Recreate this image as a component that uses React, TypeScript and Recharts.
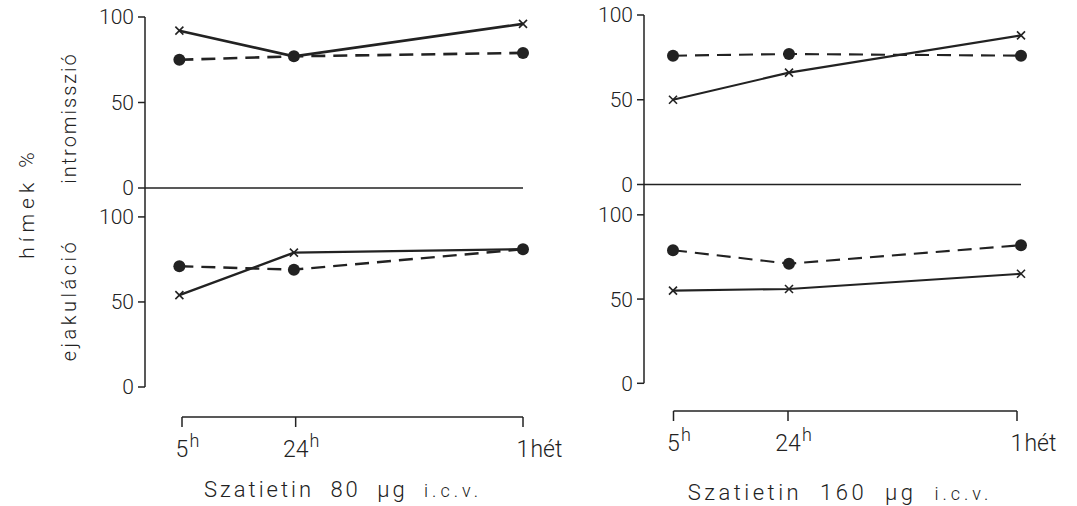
import { LineChart, Line, XAxis, YAxis } from "recharts";

// time points and their relative spacing on the x axis
const timeLabels = ["5h", "24h", "1hét"];
const timePos = [0, 1, 3];
const yTicks = [0, 50, 100];

// Szatietin 80 µg
const intro80Cross = [92, 77, 96];
const intro80Dot = [75, 77, 79];
const ejac80Cross = [54, 79, 81];
const ejac80Dot = [71, 69, 81];

// Szatietin 160 µg
const intro160Cross = [50, 66, 88];
const intro160Dot = [76, 77, 76];
const ejac160Cross = [55, 56, 65];
const ejac160Dot = [79, 71, 82];

const INK = "#222";
const FONT = "Roboto, 'DejaVu Sans', sans-serif";
const WEIGHT = 300;

const rows = (cross: number[], dot: number[]) =>
  timePos.map((x, i) => ({ x, label: timeLabels[i], cross: cross[i], dot: dot[i] }));

const CrossDot = (props: any) => {
  const { cx, cy } = props;
  if (cx == null || cy == null) return <g />;
  const s = 4;
  return (
    <g>
      <line x1={cx - s} y1={cy - s} x2={cx + s} y2={cy + s} stroke={INK} strokeWidth={1.6} />
      <line x1={cx - s} y1={cy + s} x2={cx + s} y2={cy - s} stroke={INK} strokeWidth={1.6} />
    </g>
  );
};

const XTick = ({ x, y, payload }: any) => {
  const i = timePos.indexOf(payload.value);
  const m = (timeLabels[i] || "").match(/^(\d+)(.*)$/);
  if (!m) return <g />;
  const main = m[1];
  const rest = m[2];
  const sup = rest === "h";
  const w = main.length * 0.56 * 23;
  const base = y + 28;
  return (
    <g fontFamily={FONT} fontWeight={WEIGHT} fill={INK}>
      <text x={x} y={base} fontSize={23} textAnchor="middle">{main}</text>
      <text x={x + w / 2 + 1} y={sup ? base - 10 : base} fontSize={sup ? 18 : 23} textAnchor="start">{rest}</text>
    </g>
  );
};

const yTick = { fill: INK, fontSize: 21, fontFamily: FONT, fontWeight: WEIGHT };

function DataPanel({ left, top, width, height, margin, yWidth, xDomain, yDomain, cross, dot, lw, showX }: any) {
  return (
    <div style={{ position: "absolute", left, top }}>
      <LineChart width={width} height={height} data={rows(cross, dot)} margin={margin}>
        <XAxis
          type="number"
          dataKey="x"
          domain={xDomain}
          ticks={timePos}
          hide={!showX}
          tick={false}
          tickSize={8}
          height={10}
          axisLine={{ stroke: INK, strokeWidth: 1.5 }}
          tickLine={{ stroke: INK, strokeWidth: 1.5 }}
        />
        <YAxis
          type="number"
          domain={yDomain}
          ticks={yTicks}
          interval={0}
          width={yWidth}
          tickSize={7}
          tickMargin={4}
          tick={yTick}
          axisLine={{ stroke: INK, strokeWidth: 1.5 }}
          tickLine={{ stroke: INK, strokeWidth: 1.5 }}
        />
        <Line
          dataKey="dot"
          stroke={INK}
          strokeWidth={lw}
          strokeDasharray="14 8"
          dot={{ r: 6, fill: INK, strokeWidth: 0, strokeDasharray: "0" }}
          isAnimationActive={false}
        />
        <Line dataKey="cross" stroke={INK} strokeWidth={lw} dot={<CrossDot />} isAnimationActive={false} />
      </LineChart>
    </div>
  );
}

function Bracket({ left, top, width, marginLeft }: any) {
  return (
    <div style={{ position: "absolute", left, top }}>
      <LineChart width={width} height={70} data={rows([0, 0, 0], [0, 0, 0])} margin={{ top: 0, right: 60, bottom: 0, left: marginLeft }}>
        <XAxis
          type="number"
          dataKey="x"
          domain={[0, 3]}
          ticks={timePos}
          interval={0}
          tickSize={10}
          tickMargin={2}
          height={60}
          tick={<XTick />}
          axisLine={{ stroke: INK, strokeWidth: 1.5 }}
          tickLine={{ stroke: INK, strokeWidth: 1.5 }}
        />
      </LineChart>
    </div>
  );
}

export default function App() {
  return (
    <div style={{ position: "absolute", left: 0, top: 0, width: 1077, height: 506, background: "#fff", overflow: "hidden" }}>
      {/* Szatietin 80 µg */}
      <DataPanel left={0} top={0} width={543} height={210} margin={{ top: 17, right: 20, bottom: 12, left: 0 }}
        yWidth={145} xDomain={[-0.3, 3]} yDomain={[0, 100]} cross={intro80Cross} dot={intro80Dot} lw={2.6} showX />
      <DataPanel left={0} top={170} width={543} height={237} margin={{ top: 18, right: 20, bottom: 20, left: 0 }}
        yWidth={145} xDomain={[-0.3, 3]} yDomain={[0, 117]} cross={ejac80Cross} dot={ejac80Dot} lw={2.4} />
      <Bracket left={0} top={407} width={583} marginLeft={182} />

      {/* Szatietin 160 µg */}
      <DataPanel left={500} top={0} width={541} height={206.5} margin={{ top: 15, right: 20, bottom: 12, left: 0 }}
        yWidth={144} xDomain={[-0.25, 3]} yDomain={[0, 100]} cross={intro160Cross} dot={intro160Dot} lw={2.1} showX />
      <DataPanel left={500} top={170} width={541} height={233.3} margin={{ top: 14.5, right: 20, bottom: 20, left: 0 }}
        yWidth={144} xDomain={[-0.25, 3]} yDomain={[0, 118]} cross={ejac160Cross} dot={ejac160Dot} lw={2.1} />
      <Bracket left={500} top={400.7} width={577} marginLeft={173.5} />

      <svg width={1077} height={506} style={{ position: "absolute", left: 0, top: 0, pointerEvents: "none" }}
        fontFamily={FONT} fontWeight={WEIGHT} fill={INK}>
        <text x={34} y={203} fontSize={21} letterSpacing={5} textAnchor="middle" transform="rotate(-90 34 203)">hímek %</text>
        <text x={76} y={118} fontSize={20} letterSpacing={2} textAnchor="middle" transform="rotate(-90 76 118)">intromisszió</text>
        <text x={76} y={300} fontSize={20} letterSpacing={3.5} textAnchor="middle" transform="rotate(-90 76 300)">ejakuláció</text>
        <text x={343} y={497} fontSize={22} letterSpacing={3} wordSpacing={8} textAnchor="middle">
          Szatietin 80 µg <tspan fontSize={18} letterSpacing={4}>i.c.v.</tspan>
        </text>
        <text x={840} y={500} fontSize={22} letterSpacing={3.5} wordSpacing={9} textAnchor="middle">
          Szatietin 160 µg <tspan fontSize={18} letterSpacing={4}>i.c.v.</tspan>
        </text>
      </svg>
    </div>
  );
}
